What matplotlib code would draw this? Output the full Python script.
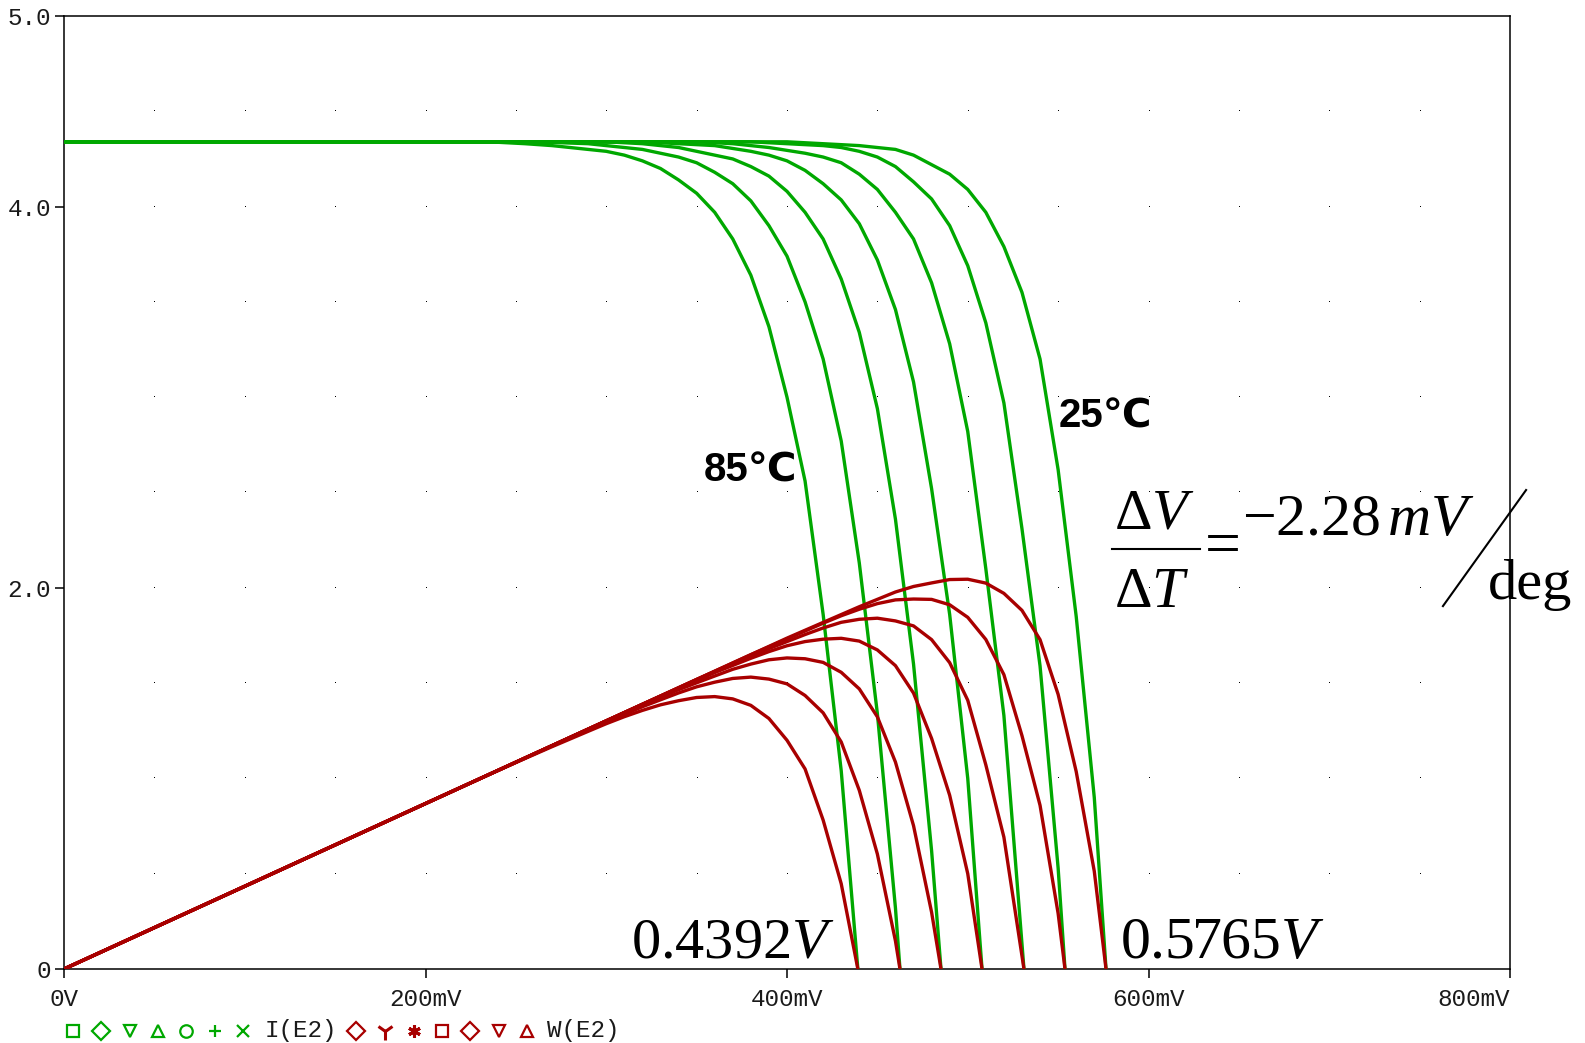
import numpy as np
import matplotlib
matplotlib.use('Agg')
import matplotlib.pyplot as plt

plt.rcParams['mathtext.fontset'] = 'custom'
plt.rcParams['mathtext.rm'] = 'Liberation Serif'
plt.rcParams['mathtext.it'] = 'Liberation Serif:italic'

W_PX, H_PX = 1585, 1043
GREEN = '#00a800'
RED = '#a80000'
INK = '#1a1a1a'
MONO = 'Liberation Mono'

# solar cell I-V sweep, voltage in mV, current in A, one curve per temperature
v85 = [0, 235, 255, 270, 290, 300, 310, 320, 330, 340, 350, 360, 370, 380, 390, 400, 410, 420, 430, 439.2]
i85 = [4.34, 4.34, 4.33, 4.32, 4.30, 4.29, 4.27, 4.24, 4.20, 4.14, 4.07, 3.97, 3.83, 3.64, 3.37, 3.00, 2.56, 1.86, 1.04, 0.0]

v75 = [0, 260, 290, 310, 320, 330, 340, 350, 360, 370, 380, 390, 400, 410, 420, 430, 440, 450, 460, 462.5]
i75 = [4.34, 4.34, 4.33, 4.31, 4.30, 4.28, 4.26, 4.23, 4.18, 4.12, 4.03, 3.90, 3.74, 3.50, 3.20, 2.77, 2.13, 1.34, 0.32, 0.0]

v65 = [0, 300, 320, 340, 350, 360, 370, 380, 390, 400, 410, 420, 430, 440, 450, 460, 470, 480, 485.2]
i65 = [4.34, 4.34, 4.33, 4.31, 4.29, 4.27, 4.25, 4.21, 4.16, 4.08, 3.97, 3.83, 3.62, 3.34, 2.94, 2.36, 1.60, 0.62, 0.0]

v55 = [0, 320, 340, 360, 380, 390, 400, 410, 420, 430, 440, 450, 460, 470, 480, 490, 500, 507.9]
i55 = [4.34, 4.34, 4.33, 4.32, 4.29, 4.27, 4.24, 4.19, 4.12, 4.035, 3.91, 3.72, 3.46, 3.08, 2.52, 1.86, 1.00, 0.0]

v45 = [0, 350, 370, 390, 410, 420, 430, 440, 450, 460, 470, 480, 490, 500, 510, 520, 531.1]
i45 = [4.34, 4.34, 4.33, 4.31, 4.28, 4.26, 4.23, 4.17, 4.09, 3.97, 3.83, 3.60, 3.28, 2.82, 2.10, 1.33, 0.0]

v35 = [0, 380, 400, 420, 430, 440, 450, 460, 470, 480, 490, 500, 510, 520, 530, 540, 550, 553.8]
i35 = [4.34, 4.34, 4.33, 4.32, 4.31, 4.29, 4.26, 4.21, 4.13, 4.04, 3.90, 3.69, 3.39, 2.97, 2.31, 1.59, 0.53, 0.0]

v25 = [0, 400, 420, 440, 460, 470, 480, 490, 500, 510, 520, 530, 540, 550, 560, 570, 576.5]
i25 = [4.34, 4.34, 4.33, 4.32, 4.30, 4.27, 4.22, 4.17, 4.09, 3.97, 3.79, 3.55, 3.20, 2.62, 1.85, 0.90, 0.0]

curves = [(v85, i85), (v75, i75), (v65, i65), (v55, i55), (v45, i45), (v35, i35), (v25, i25)]

x_ticks = [0, 200, 400, 600, 800]
x_labels = ['0V', '200mV', '400mV', '600mV', '800mV']
y_ticks = [0, 2, 4, 5]
y_labels = ['0', '2.0', '4.0', '5.0']

fig = plt.figure(figsize=(W_PX / 100, H_PX / 100), dpi=100)
ax = fig.add_axes([64 / W_PX, 1 - 969 / H_PX, (1510 - 64) / W_PX, (969 - 16) / H_PX])
ax.set_xlim(0, 800)
ax.set_ylim(0, 5)

# dotted PSpice grid
gx, gy = np.meshgrid(np.arange(50, 800, 50), np.arange(0.5, 5, 0.5))
ax.plot(gx.ravel(), gy.ravel(), ',', color='black', zorder=1)

for v, i in curves:
    ax.plot(v, i, color=GREEN, lw=2.4, zorder=3)
for v, i in curves:
    w = np.array(v) / 1000.0 * np.array(i)  # W(E2) = V * I
    ax.plot(v, w, color=RED, lw=2.4, zorder=4)

for s in ax.spines.values():
    s.set_linewidth(1.1)
    s.set_color('black')
ax.set_xticks(x_ticks)
ax.set_xticklabels(x_labels, fontfamily=MONO, fontsize=17.5, color=INK)
ax.set_yticks(y_ticks)
ax.set_yticklabels(y_labels, fontfamily=MONO, fontsize=17.5, color=INK)
ax.tick_params(axis='both', direction='out', length=6.5, width=1.1, color='black')
ax.tick_params(axis='x', pad=7)
ax.tick_params(axis='y', pad=3)
ax.get_xticklabels()[-1].set_horizontalalignment('right')
ax.get_xticklabels()[-1].set_x(800)

# annotations
lbl = dict(fontsize=29, fontweight='bold', family=['Liberation Sans', 'DejaVu Sans'], color='black')
ax.text(354, 2.56, '85℃', ha='left', va='baseline', **lbl)
ax.text(550, 2.84, '25℃', ha='left', va='baseline', **lbl)

ax.text(426.5, 0.058, r'$0.4392V$', fontsize=42, ha='right', va='baseline', color='black')
ax.text(584.2, 0.058, r'$0.5765V$', fontsize=43, ha='left', va='baseline', color='black')

ax.text(603, 2.31, r'$\Delta V$', fontsize=42, ha='center', va='baseline', clip_on=False)
ax.plot([579.8, 628.5], [2.204, 2.204], color='black', lw=1.5, clip_on=False)
ax.text(602, 1.90, r'$\Delta T$', fontsize=42, ha='center', va='baseline', clip_on=False)
ax.text(641.2, 2.205, '=', fontsize=46, family='Liberation Serif', ha='center', va='center', clip_on=False)
ax.text(652, 2.275, r'$-2.28\,mV$', fontsize=43, ha='left', va='baseline', clip_on=False)
ax.plot([808.9, 762.9], [2.513, 1.904], color='black', lw=1.5, clip_on=False)
ax.text(787.8, 1.94, 'deg', fontsize=42, family='Liberation Serif', ha='left', va='baseline', clip_on=False)

# trace legend strip under the axis
ov = fig.add_axes([0, 0, 1, 1], zorder=-1)
ov.set_xlim(0, W_PX)
ov.set_ylim(H_PX, 0)
ov.axis('off')
ly = 1031
g_marks = [('s', 73), ('D', 101), ('v', 129.5), ('^', 158), ('o', 186), ('+', 214.5), ('x', 243)]
r_marks = [('D', 356), ('1', 385), ((6, 2, 0), 413.5), ('s', 442), ('D', 470), ('v', 498.5), ('^', 527)]
for m, x in g_marks:
    ov.plot([x], [ly], marker=m, ms=9, mfc='none', mec=GREEN, mew=1.6, ls='none')
for m, x in r_marks:
    size = 13 if m == '1' else 9
    width = 2.2 if m in ('1', (6, 2, 0)) else 1.6
    ov.plot([x], [ly], marker=m, ms=size, mfc='none', mec=RED, mew=width, ls='none')
ov.text(265, ly, 'I(E2)', family=MONO, fontsize=17.5, color=INK, ha='left', va='center')
ov.text(547, ly, 'W(E2)', family=MONO, fontsize=17.5, color=INK, ha='left', va='center')

fig.savefig('out.png', dpi=100)
